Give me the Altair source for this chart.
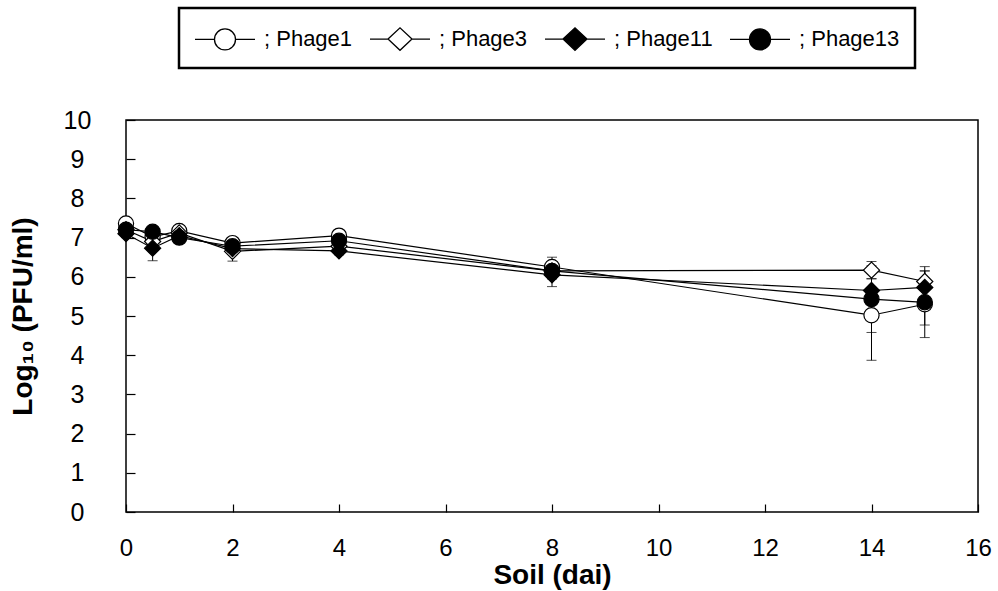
import altair as alt
import pandas as pd

# ---- data ----
series = ["Phage1", "Phage3", "Phage11", "Phage13"]
days = [0, 0.5, 1, 2, 4, 8, 14, 15]
phage1 = [7.36, 7.02, 7.17, 6.86, 7.05, 6.25, 5.02, 5.30]
phage3 = [7.20, 6.90, 7.12, 6.65, 6.78, 6.15, 6.17, 5.88]
phage11 = [7.10, 6.73, 7.05, 6.72, 6.66, 6.05, 5.65, 5.73]
phage13 = [7.20, 7.15, 7.00, 6.78, 6.92, 6.15, 5.43, 5.35]
err1 = [0.10, 0.10, 0.08, 0.10, 0.08, 0.25, 1.15, 0.85]
err3 = [0.10, 0.10, 0.10, 0.25, 0.10, 0.20, 0.22, 0.38]
err11 = [0.10, 0.32, 0.08, 0.10, 0.10, 0.30, 0.30, 0.42]
err13 = [0.10, 0.10, 0.08, 0.10, 0.10, 0.20, 0.85, 0.58]
x_ticks = [0, 2, 4, 6, 8, 10, 12, 14, 16]
y_ticks = [0, 1, 2, 3, 4, 5, 6, 7, 8, 9, 10]

vals = [phage1, phage3, phage11, phage13]
errs = [err1, err3, err11, err13]
rows = []
for s, v, e in zip(series, vals, errs):
    for d, yv, ev in zip(days, v, e):
        rows.append({"series": s, "day": d, "val": yv, "err": ev})
df = pd.DataFrame(rows)

# ---- styles ----
plot_shapes = ["circle", "diamond", "diamond", "circle"]
fills = ["white", "white", "black", "black"]
sizes = [230, 260, 260, 230]
circ_leg = "M-1,0L0.3,0M1.7,0L3,0M1.7,0A0.7,0.7,0,1,1,0.3,0A0.7,0.7,0,1,1,1.7,0Z"
diam_leg = "M-1,0L0.2,0M1.8,0L3,0M0.2,0L1,-0.75L1.8,0L1,0.75Z"
legend_shapes = [circ_leg, diam_leg, diam_leg, circ_leg]
FONT = "Liberation Sans"

xenc = alt.X("day:Q", scale=alt.Scale(domain=[0, 16], nice=False),
             axis=alt.Axis(values=x_ticks, title="Soil (dai)", grid=False, domain=False,
                           offset=-8, tickSize=8, tickColor="black", tickWidth=1.2,
                           labelFlush=False, labelPadding=24, labelFontSize=24,
                           labelFont=FONT, labelColor="black",
                           titleFont=FONT, titleFontSize=28, titleFontWeight="bold",
                           titleColor="black", titleY=57))
yenc = alt.Y("val:Q", scale=alt.Scale(domain=[0, 10], nice=False),
             axis=alt.Axis(values=y_ticks, title="Log₁₀ (PFU/ml)", grid=False, domain=False,
                           offset=-9, tickSize=9, tickColor="black", tickWidth=1.2,
                           labelFlush=False, labelPadding=49, labelAlign="center",
                           labelFontSize=25, labelFont=FONT, labelColor="black",
                           titleFont=FONT, titleFontSize=28, titleFontWeight="bold",
                           titleColor="black", titleX=-98))

base = alt.Chart(df)

errbars = base.mark_errorbar(color="black", thickness=1,
                             ticks={"size": 10, "thickness": 1}).encode(
    x=xenc, y=yenc, yError=alt.YError("err:Q"))

lines = base.mark_line(color="black", strokeWidth=1.2).encode(
    x=xenc, y=yenc, detail="series:N")

point_layers = []
for s, shp, fl, sz in zip(series, plot_shapes, fills, sizes):
    point_layers.append(
        base.transform_filter(alt.datum.series == s).mark_point(
            shape=shp, filled=True, fill=fl, stroke="black", strokeWidth=1.2,
            size=sz, opacity=1).encode(x=xenc, y=yenc)
    )

leg = alt.Legend(title=None, orient="none", legendX=53, legendY=-112, direction="horizontal",
                 columns=4, columnPadding=14, padding=15, strokeColor="black",
                 fillColor="white", symbolSize=900, symbolStrokeColor="black",
                 symbolStrokeWidth=1.3, symbolOpacity=1, labelOffset=38,
                 labelFont=FONT, labelFontSize=22, labelColor="black",
                 labelExpr="'; ' + datum.label", labelLimit=300)

legend_layer = base.transform_filter("false").mark_point(
    filled=True, strokeWidth=1.3, opacity=1).encode(
    shape=alt.Shape("series:N", scale=alt.Scale(domain=series, range=legend_shapes), legend=leg),
    fill=alt.Fill("series:N", scale=alt.Scale(domain=series, range=fills), legend=leg),
    stroke=alt.Stroke("series:N", scale=alt.Scale(domain=series, range=["black"] * 4), legend=leg),
)

chart = alt.layer(errbars, lines, *point_layers, legend_layer).properties(
    width=852, height=392,
    autosize=alt.AutoSizeParams(type="none"),
    padding={"left": 126, "top": 120, "right": 20, "bottom": 79},
).configure_view(stroke="black", strokeWidth=1.5).configure_legend(strokeWidth=2.5)

chart.save("out.html", embed_options={"renderer": "svg", "actions": False})
